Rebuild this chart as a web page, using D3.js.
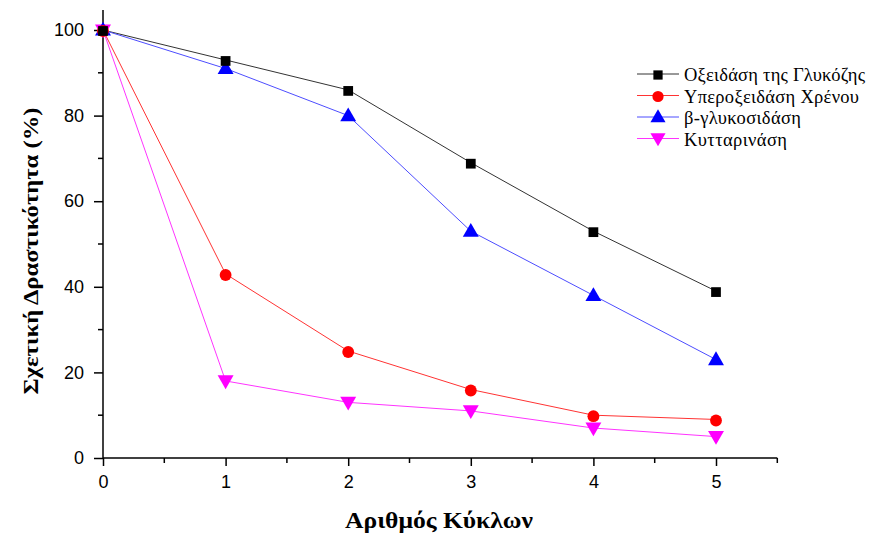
<!DOCTYPE html>
<html><head><meta charset="utf-8">
<script src="https://cdn.jsdelivr.net/npm/d3@7"></script>
<style>body{margin:0;background:#fff}svg{display:block}</style>
</head><body><svg id="c" width="872" height="534"></svg>
<script>
const cycles = [0,1,2,3,4,5];
const glucoseOxidase = [100,93,86,69,53,39];
const peroxidase = [100,43,25,16,10,9];
const betaGlucosidase = [100,91,80,53,38,23];
const cellulase = [100,18,13,11,7,5];
const seriesNames = ["Οξειδάση της Γλυκόζης","Υπεροξειδάση Χρένου","β-γλυκοσιδάση","Κυτταρινάση"];
const xTicks = [0,1,2,3,4,5];
const yTicks = [0,20,40,60,80,100];

const SERIF = "Liberation Serif";
const SANS = "Liberation Sans";
const svg = d3.select("#c");
const x = d3.scaleLinear().domain([0,5]).range([103,716]);
const y = d3.scaleLinear().domain([0,100]).range([458,30]);

const series = [
  {name:seriesNames[0], vals:glucoseOxidase, color:"#000000", line:"#333", sym:d3.symbolSquare, size:95, rot:0, tw:181},
  {name:seriesNames[1], vals:peroxidase, color:"#ff0000", line:"#ff3333", sym:d3.symbolCircle, size:110, rot:0, tw:175},
  {name:seriesNames[2], vals:betaGlucosidase, color:"#0000ff", line:"#4d4dff", sym:d3.symbolTriangle, size:110, rot:0, tw:117},
  {name:seriesNames[3], vals:cellulase, color:"#ff00ff", line:"#ff33ff", sym:d3.symbolTriangle, size:110, rot:180, tw:103}
];

// axes
const xAxis = d3.axisBottom(x).tickValues(xTicks).tickFormat(d3.format("d")).tickSizeOuter(0).tickSize(8).tickPadding(9);
const yAxis = d3.axisLeft(y).tickValues(yTicks).tickFormat(d3.format("d")).tickSizeOuter(0).tickSize(9).tickPadding(10);
const gx = svg.append("g").attr("transform","translate(0,458)").call(xAxis);
const gy = svg.append("g").attr("transform","translate(103,0)").call(yAxis);
[gx,gy].forEach(g=>{
  g.select(".domain").remove();
  g.attr("font-family",SANS).attr("font-size",18);
  g.selectAll("line").attr("stroke","#000").attr("stroke-width",1.5);
  g.selectAll("text").attr("fill","#000");
});
// axis lines extended
const xMax = x(5.5), yTop = y(104.7);
svg.append("line").attr("x1",103).attr("x2",xMax).attr("y1",458).attr("y2",458).attr("stroke","#000").attr("stroke-width",1.5);
svg.append("line").attr("x1",103).attr("x2",103).attr("y1",458).attr("y2",yTop).attr("stroke","#000").attr("stroke-width",1.5);
// minor ticks
d3.range(0.5,5.6,1).forEach(v=>{
  svg.append("line").attr("x1",x(v)).attr("x2",x(v)).attr("y1",458).attr("y2",463).attr("stroke","#000").attr("stroke-width",1.5);
});
d3.range(10,101,20).forEach(v=>{
  svg.append("line").attr("x1",103).attr("x2",98).attr("y1",y(v)).attr("y2",y(v)).attr("stroke","#000").attr("stroke-width",1.5);
});

// lines and markers
const lineGen = d3.line().x((d,i)=>x(cycles[i])).y(d=>y(d));
series.forEach(s=>{
  svg.append("path").attr("d",lineGen(s.vals)).attr("fill","none").attr("stroke",s.line).attr("stroke-width",1);
});
series.slice().reverse().forEach(s=>{
  svg.selectAll(null).data(s.vals).enter().append("path")
    .attr("d",d3.symbol().type(s.sym).size(s.size))
    .attr("transform",(d,i)=>`translate(${x(cycles[i])},${y(d)+(s.rot?-1:1)}) rotate(${s.rot})`)
    .attr("fill",s.color);
});

// legend
const lg = svg.append("g");
series.forEach((s,i)=>{
  const yy = 74 + i*21.5;
  lg.append("line").attr("x1",637).attr("x2",679).attr("y1",yy).attr("y2",yy).attr("stroke",s.line).attr("stroke-width",1);
  lg.append("path").attr("d",d3.symbol().type(s.sym).size(s.size*0.9)).attr("transform",`translate(658,${yy+(s.rot?-1:1)}) rotate(${s.rot})`).attr("fill",s.color);
  lg.append("text").attr("x",684).attr("y",yy+7).text(s.name)
    .attr("font-family",SERIF).attr("font-size",18.5).attr("fill","#000")
    .attr("textLength",s.tw).attr("lengthAdjust","spacing");
});

// axis titles
svg.append("text").attr("x",439).attr("y",528).attr("text-anchor","middle")
  .attr("font-family",SERIF).attr("font-weight","bold").attr("font-size",24)
  .attr("textLength",188).attr("lengthAdjust","spacingAndGlyphs")
  .text("Αριθμός Κύκλων");
svg.append("text").attr("transform","translate(38,251) rotate(-90)").attr("text-anchor","middle")
  .attr("font-family",SERIF).attr("font-weight","bold").attr("font-size",22)
  .attr("textLength",287).attr("lengthAdjust","spacingAndGlyphs")
  .text("Σχετική Δραστικότητα (%)");
</script></body></html>
